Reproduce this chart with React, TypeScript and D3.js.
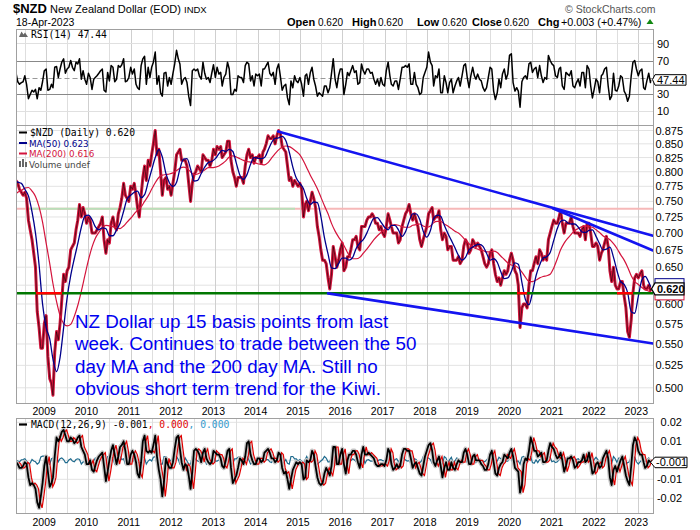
import React from 'react';
import * as d3 from 'd3';

// ---------------- DATA ----------------
// Semi-monthly closes (1st and 16th of each month) starting 2008-04-16
const priceValues: number[] = [
  0.785, 0.780, 0.770, 0.765, 0.760, 0.765, 0.755, 0.720, 0.705, 0.690, 0.670, 0.650, 0.590, 0.570, 0.545, 0.545, 0.575,
  0.585, 0.535, 0.510, 0.505, 0.492, 0.540, 0.565, 0.555, 0.575, 0.605, 0.640, 0.630, 0.645, 0.650, 0.675, 0.680, 0.685, 0.705, 0.720, 0.745, 0.725, 0.740, 0.730, 0.715,
  0.725, 0.720, 0.700, 0.700, 0.700, 0.705, 0.710, 0.715, 0.725, 0.690, 0.670, 0.690, 0.685, 0.715, 0.725, 0.710, 0.705, 0.730, 0.740, 0.755, 0.780, 0.760, 0.755, 0.750,
  0.775, 0.770, 0.780, 0.760, 0.740, 0.725, 0.760, 0.790, 0.810, 0.785, 0.820, 0.810, 0.830, 0.850, 0.875, 0.830, 0.840, 0.800, 0.760, 0.785, 0.790, 0.770, 0.775, 0.760,
  0.780, 0.800, 0.830, 0.835, 0.840, 0.820, 0.820, 0.820, 0.810, 0.780, 0.750, 0.780, 0.795, 0.800, 0.810, 0.805, 0.800, 0.830, 0.825, 0.820, 0.820, 0.810, 0.820, 0.840,
  0.830, 0.845, 0.840, 0.845, 0.825, 0.830, 0.835, 0.855, 0.855, 0.820, 0.800, 0.790, 0.775, 0.790, 0.790, 0.790, 0.780, 0.810, 0.830, 0.840, 0.825, 0.830, 0.815, 0.825,
  0.825, 0.830, 0.815, 0.835, 0.840, 0.850, 0.865, 0.860, 0.860, 0.865, 0.850, 0.865, 0.875, 0.870, 0.845, 0.840, 0.835, 0.810, 0.785, 0.790, 0.775, 0.785, 0.780, 0.775,
  0.780, 0.770, 0.725, 0.745, 0.750, 0.735, 0.750, 0.765, 0.755, 0.740, 0.710, 0.695, 0.675, 0.660, 0.660, 0.655, 0.635, 0.620, 0.640, 0.680, 0.665, 0.650, 0.660, 0.675,
  0.685, 0.645, 0.650, 0.665, 0.665, 0.675, 0.690, 0.690, 0.695, 0.680, 0.675, 0.710, 0.710, 0.710, 0.720, 0.725, 0.725, 0.730, 0.725, 0.715, 0.715, 0.705, 0.710, 0.700,
  0.695, 0.710, 0.730, 0.720, 0.710, 0.700, 0.700, 0.700, 0.685, 0.690, 0.710, 0.720, 0.730, 0.735, 0.745, 0.730, 0.720, 0.730, 0.720, 0.710, 0.690, 0.680, 0.690, 0.700,
  0.710, 0.730, 0.735, 0.740, 0.720, 0.725, 0.725, 0.735, 0.705, 0.690, 0.700, 0.695, 0.675, 0.680, 0.680, 0.660, 0.660, 0.660, 0.665, 0.655, 0.660, 0.680, 0.690, 0.685,
  0.670, 0.675, 0.690, 0.685, 0.680, 0.685, 0.680, 0.675, 0.665, 0.655, 0.650, 0.655, 0.670, 0.675, 0.655, 0.640, 0.630, 0.635, 0.625, 0.635, 0.645, 0.640, 0.645, 0.660,
  0.670, 0.660, 0.645, 0.640, 0.625, 0.570, 0.595, 0.600, 0.600, 0.595, 0.625, 0.645, 0.645, 0.655, 0.665, 0.655, 0.675, 0.670, 0.660, 0.665, 0.660, 0.690, 0.700, 0.710,
  0.720, 0.715, 0.715, 0.725, 0.735, 0.715, 0.700, 0.715, 0.715, 0.715, 0.725, 0.710, 0.700, 0.700, 0.700, 0.695, 0.705, 0.710, 0.690, 0.715, 0.715, 0.700, 0.680, 0.680,
  0.685, 0.680, 0.660, 0.670, 0.675, 0.685, 0.695, 0.680, 0.645, 0.630, 0.650, 0.625, 0.620, 0.620, 0.630, 0.630, 0.610, 0.595, 0.565, 0.558, 0.580, 0.615, 0.635, 0.640,
  0.635, 0.640, 0.645, 0.625, 0.620, 0.620, 0.625, 0.618,
];
const lastDate = '2023-04-18';
const lastClose = 0.62;

// Monthly (1st of month) moving averages starting 2008-04-01
const ma50Values: number[] = [
  0.785, 0.782, 0.780, 0.770, 0.759, 0.733, 0.700, 0.653, 0.600,
  0.570, 0.556, 0.532, 0.518, 0.534, 0.570, 0.608, 0.638, 0.662, 0.684, 0.709, 0.726,
  0.728, 0.721, 0.710, 0.705, 0.708, 0.707, 0.696, 0.696, 0.705, 0.715, 0.734, 0.754,
  0.760, 0.765, 0.767, 0.756, 0.761, 0.782, 0.803, 0.825, 0.840, 0.826, 0.797, 0.781,
  0.775, 0.782, 0.805, 0.822, 0.823, 0.805, 0.784, 0.785, 0.797, 0.808, 0.816, 0.818,
  0.823, 0.832, 0.838, 0.836, 0.840, 0.836, 0.815, 0.794, 0.787, 0.795, 0.813, 0.825,
  0.824, 0.823, 0.825, 0.838, 0.852, 0.860, 0.861, 0.864, 0.856, 0.835, 0.808, 0.789,
  0.780, 0.771, 0.755, 0.745, 0.749, 0.748, 0.726, 0.693, 0.669, 0.649, 0.648, 0.655,
  0.663, 0.663, 0.660, 0.664, 0.677, 0.685, 0.690, 0.700, 0.713, 0.723, 0.724, 0.717,
  0.709, 0.705, 0.712, 0.712, 0.705, 0.695, 0.702, 0.718, 0.730, 0.730, 0.721, 0.703,
  0.694, 0.704, 0.723, 0.728, 0.726, 0.712, 0.700, 0.689, 0.678, 0.667, 0.660, 0.664,
  0.675, 0.679, 0.682, 0.683, 0.680, 0.670, 0.660, 0.662, 0.657, 0.644, 0.634, 0.635,
  0.644, 0.656, 0.654, 0.629, 0.606, 0.599, 0.615, 0.638, 0.653, 0.663, 0.665, 0.671,
  0.689, 0.707, 0.718, 0.720, 0.716, 0.714, 0.714, 0.709, 0.702, 0.701, 0.704, 0.705,
  0.695, 0.684, 0.675, 0.676, 0.679, 0.664, 0.645, 0.630, 0.626, 0.615, 0.590, 0.588,
  0.610, 0.632, 0.637, 0.629,
];
const ma50Last = 0.623;

const ma200Values: number[] = [
  0.760, 0.765, 0.768, 0.772, 0.773, 0.767, 0.758, 0.741, 0.717,
  0.685, 0.655, 0.627, 0.603, 0.585, 0.575, 0.572, 0.574, 0.584, 0.598, 0.617, 0.638,
  0.660, 0.679, 0.692, 0.701, 0.708, 0.712, 0.711, 0.710, 0.708, 0.707, 0.711, 0.717,
  0.723, 0.730, 0.736, 0.741, 0.750, 0.759, 0.770, 0.781, 0.790, 0.794, 0.795, 0.796,
  0.798, 0.802, 0.806, 0.808, 0.806, 0.800, 0.795, 0.796, 0.799, 0.803, 0.807, 0.807,
  0.808, 0.810, 0.814, 0.819, 0.826, 0.828, 0.826, 0.823, 0.820, 0.818, 0.817, 0.816,
  0.814, 0.813, 0.812, 0.816, 0.824, 0.832, 0.839, 0.844, 0.846, 0.845, 0.841, 0.836,
  0.830, 0.819, 0.807, 0.794, 0.783, 0.771, 0.757, 0.743, 0.730, 0.715, 0.703, 0.694,
  0.686, 0.676, 0.667, 0.662, 0.662, 0.664, 0.670, 0.676, 0.683, 0.690, 0.696, 0.701,
  0.705, 0.708, 0.711, 0.713, 0.712, 0.710, 0.709, 0.709, 0.712, 0.713, 0.714, 0.711,
  0.709, 0.711, 0.716, 0.718, 0.718, 0.714, 0.711, 0.707, 0.703, 0.700, 0.695, 0.689,
  0.684, 0.679, 0.677, 0.675, 0.674, 0.672, 0.672, 0.673, 0.671, 0.666, 0.661, 0.656,
  0.653, 0.652, 0.649, 0.643, 0.636, 0.630, 0.630, 0.632, 0.635, 0.637, 0.638, 0.640,
  0.649, 0.662, 0.675, 0.685, 0.692, 0.698, 0.704, 0.707, 0.710, 0.711, 0.710, 0.709,
  0.705, 0.701, 0.696, 0.693, 0.690, 0.684, 0.677, 0.668, 0.660, 0.650, 0.638, 0.630,
  0.626, 0.622, 0.619, 0.617,
];
const ma200Last = 0.616;

// RSI(14), semi-monthly from 2008-04-16
const rsiValues: number[] = [
  55, 45, 42, 44, 45, 52, 42, 25, 30, 35, 33, 36, 25, 38, 35, 45, 58,
  60, 35, 36, 42, 38, 62, 63, 50, 60, 68, 72, 55, 60, 62, 70, 62, 58, 68, 66, 72, 48, 58, 48, 42,
  55, 50, 36, 48, 50, 52, 55, 58, 60, 35, 33, 56, 46, 64, 62, 45, 48, 64, 62, 65, 72, 45, 46, 50,
  62, 54, 60, 42, 38, 36, 64, 72, 75, 42, 62, 50, 62, 68, 80, 42, 52, 32, 28, 55, 56, 40, 50, 42,
  55, 66, 82, 72, 66, 42, 48, 50, 44, 28, 17, 58, 60, 58, 60, 52, 48, 68, 55, 48, 50, 44, 55, 65,
  50, 62, 54, 56, 40, 50, 54, 68, 60, 30, 30, 36, 34, 52, 50, 50, 44, 64, 68, 66, 46, 52, 40, 54,
  52, 54, 40, 60, 60, 64, 68, 55, 52, 56, 42, 60, 66, 52, 35, 40, 42, 26, 18, 46, 38, 52, 46, 44,
  50, 42, 28, 52, 54, 42, 56, 62, 48, 40, 28, 32, 30, 28, 40, 40, 32, 38, 55, 72, 48, 38, 52, 60,
  60, 30, 42, 56, 52, 58, 64, 56, 58, 42, 44, 66, 58, 54, 60, 60, 55, 56, 48, 42, 48, 40, 50, 42,
  40, 58, 68, 52, 42, 40, 46, 46, 36, 48, 62, 62, 64, 62, 66, 42, 42, 56, 42, 38, 30, 32, 50, 56,
  62, 80, 68, 64, 40, 52, 50, 60, 32, 32, 52, 44, 32, 44, 48, 32, 40, 46, 50, 40, 52, 64, 66, 50,
  38, 52, 62, 52, 48, 54, 48, 46, 38, 34, 38, 50, 62, 60, 34, 24, 32, 48, 38, 54, 60, 48, 54, 76,
  78, 44, 34, 38, 34, 15, 45, 50, 52, 48, 66, 68, 56, 60, 62, 50, 64, 52, 44, 50, 48, 76, 70, 66,
  64, 52, 50, 60, 62, 40, 36, 56, 54, 52, 58, 40, 38, 44, 48, 40, 56, 56, 38, 64, 60, 40, 26, 36,
  48, 45, 32, 52, 54, 60, 62, 40, 24, 28, 55, 35, 34, 40, 52, 50, 34, 30, 22, 28, 52, 68, 70, 60,
  52, 58, 60, 38, 36, 46, 55, 44,
];
const rsiLast = 47.44;

// MACD line (thousandths), semi-monthly from 2008-04-16
const macdValues: number[] = [
  -1, -2, -4, -4, -3, -1, -2, -9, -13, -12, -13, -15, -22, -25, -19, -12, -3,
  2, -6, -14, -12, -9, 2, 12, 10, 12, 15, 16, 13, 10, 10, 12, 11, 9, 10, 12, 13, 7, 5, 3, -2,
  -2, 0, -5, -6, -3, 0, 2, 3, 4, -3, -11, -6, 0, 5, 8, 3, -2, 2, 7, 8, 10, 5, -2, -2,
  3, 5, 3, -1, -7, -9, -1, 10, 13, 5, 4, 5, 4, 8, 13, 2, -5, -10, -19, -11, 1, -2, -4, -4,
  -1, 6, 12, 13, 6, -1, -5, -2, -3, -8, -15, -6, 5, 6, 5, 3, -1, 4, 6, 1, -1, -2, -1, 5,
  4, 3, 3, 1, -3, -4, 0, 5, 6, -4, -12, -10, -8, -4, 1, 0, -2, 2, 9, 10, 3, 0, -2, -2,
  1, 1, -1, 0, 4, 5, 6, 4, 1, 1, -1, 0, 4, 3, -4, -7, -6, -10, -15, -10, -5, -3, -1, -2,
  -1, -2, -10, -9, 0, -1, 0, 5, 3, -3, -9, -12, -13, -12, -7, -4, -6, -8, -3, 7, 7, -2, -2, 3,
  6, -2, -7, 0, 3, 3, 5, 5, 3, -1, -4, 3, 7, 3, 3, 4, 3, 2, 1, -2, -3, -3, -2, -2,
  -3, 0, 6, 4, -2, -5, -4, -2, -4, -3, 3, 6, 6, 5, 5, 1, -4, -2, -1, -4, -7, -8, -3, 2,
  5, 8, 9, 5, -1, -3, 0, 2, -3, -9, -4, -1, -5, -5, -1, -4, -5, -2, 0, -1, -1, 4, 6, 3,
  -2, -2, 2, 3, 0, 0, 0, -2, -3, -5, -5, -2, 3, 5, -1, -7, -8, -4, -2, -1, 3, 2, 1, 4,
  6, 2, -4, -5, -6, -17, -13, -2, 1, 0, 5, 12, 9, 5, 5, 2, 3, 4, -1, -1, 0, 5, 9, 7,
  6, 3, 1, 2, 4, 0, -6, -3, 1, 1, 2, 0, -4, -3, -1, -1, 0, 3, -1, 0, 4, -1, -7, -6,
  -2, -1, -4, -3, 1, 3, 5, 1, -9, -13, -5, -3, -6, -3, 0, 2, -3, -8, -11, -13, -3, 8, 12, 10,
  5, 3, 3, -1, -4, -3, 0, -1,
];
const macdLast = -1;

// MACD histogram (ten-thousandths), semi-monthly from 2008-04-16
const histValues: number[] = [
  0, -4, -8, 2, 4, 8, -4, -20, -14, 4, -4, -8, -20, -12, 18, 22, 22,
  18, -22, -22, 8, 12, 22, 22, -8, 8, 12, 4, -12, -12, 2, 8, -4, -8, 4, 8, 4, -20, -8, -8, -18,
  2, 8, -20, -4, 12, 12, 8, 4, 4, -20, -20, 20, 20, 20, 12, -20, -20, 16, 20, 4, 8, -20, -20, -2,
  20, 8, -8, -16, -20, -8, 20, 20, 12, -20, -4, 4, -4, 16, 20, -20, -20, -20, -20, 20, 20, -12, -8, 2,
  12, 20, 20, 4, -20, -20, -16, 12, -4, -20, -20, 20, 20, 4, -4, -8, -16, 20, 8, -20, -8, -4, 4, 20,
  -4, -4, 2, -8, -16, -4, 16, 20, 4, -20, -20, 8, 8, 16, 20, -4, -8, 16, 20, 4, -20, -12, -8, 2,
  12, -2, -8, 4, 16, 4, 4, -8, -12, 2, -8, 4, 16, -4, -20, -12, 4, -16, -20, 20, 20, 8, 8, -4,
  4, -4, -20, 4, 20, -4, 4, 20, -8, -20, -20, -12, -4, 4, 20, 12, -8, -8, 20, 20, 2, -20, -2, 20,
  12, -20, -20, 20, 12, -2, 8, 2, -8, -16, -12, 20, 16, -16, 2, 4, -4, -4, -4, -12, -4, 2, 4, -2,
  -4, 12, 20, -8, -20, -12, 4, 8, -8, 4, 20, 12, 2, -4, -2, -16, -20, 8, 4, -12, -12, -4, 20, 20,
  12, 12, 4, -16, -20, -8, 12, 8, -20, -20, 20, 12, -16, 2, 16, -12, -4, 12, 8, -4, 2, 20, 8, -12,
  -20, -2, 16, 4, -12, 2, -2, -8, -4, -8, 2, 12, 20, 8, -20, -20, -4, 16, 8, 4, 16, -4, -4, 12,
  8, -16, -20, -4, -4, -20, 16, 20, 12, -4, 20, 20, -12, -16, 2, -12, 4, 4, -20, -2, 4, 20, 16, -8,
  -4, -12, -8, 4, 8, -16, -20, 12, 16, 2, 4, -8, -16, 4, 8, -2, 4, 12, -16, 4, 16, -20, -20, 4,
  16, 4, -12, 4, 16, 8, 8, -16, -20, -16, 20, 8, -12, 12, 12, 8, -20, -20, -12, -8, 20, 20, 16, -8,
  -20, -8, 2, -16, -12, 4, 12, -4,
];
const histLast = 0;

const yearLabels = [2009, 2010, 2011, 2012, 2013, 2014, 2015, 2016, 2017, 2018, 2019, 2020, 2021, 2022, 2023];
const priceTicks = [0.5, 0.525, 0.55, 0.575, 0.6, 0.625, 0.65, 0.675, 0.7, 0.725, 0.75, 0.775, 0.8, 0.825, 0.85, 0.875];
const priceLabelTicks = [0.5, 0.525, 0.55, 0.575, 0.6, 0.65, 0.675, 0.7, 0.725, 0.75, 0.775, 0.8, 0.825, 0.85, 0.875];
const rsiTicks = [10, 30, 70, 90];
const macdTicks = [0.02, 0.01, -0.01, -0.02];

const headerItems = [
  { label: 'Open', value: '0.620', lx: 287, vx: 318 },
  { label: 'High', value: '0.620', lx: 352, vx: 378 },
  { label: 'Low', value: '0.620', lx: 417, vx: 442 },
  { label: 'Close', value: '0.620', lx: 472, vx: 504 },
  { label: 'Chg', value: '+0.003 (+0.47%)', lx: 538, vx: 561 },
];

const greenLevel = 0.6142;
const greenLevelRedRanges = [
  ['2008-10-05', '2009-05-19'],
  ['2020-02-19', '2020-05-15'],
  ['2022-07-01', '2022-11-17'],
];
const pinkLevel = 0.738;
const pinkLevelGreenRanges = [['2008-07-25', '2014-11-20']];

const trendLines = [
  { d0: '2014-06-27', v0: 0.873, d1: '2023-05-08', v1: 0.696 },
  { d0: '2020-12-27', v0: 0.7384, d1: '2023-05-08', v1: 0.674 },
  { d0: '2015-09-01', v0: 0.614, d1: '2023-05-08', v1: 0.5506 },
];

const noteLines = [
  'NZ Dollar up 15 basis points from last',
  'week. Continues to trade between the 50',
  'day MA and the 200 day MA. Still no',
  'obvious short term trend for the Kiwi.',
];

// ---------------- LAYOUT ----------------
const W = 700, H = 530;
const L = 16.5, R = 653.5;
const RSI_T = 29.5, RSI_B = 125.5;
const P_T = 125.5, P_B = 403.5;
const M_T = 418.5, M_B = 513.5;

const parse = d3.timeParse('%Y-%m-%d');
const halfMonthDate = (i: number) => {
  const s = i + 7;
  return new Date(2008 + Math.floor(s / 24), Math.floor((s % 24) / 2), s % 2 ? 16 : 1);
};
const monthDate = (i: number) => new Date(2008, 3 + i, 1);

const x = d3.scaleTime().domain([new Date(2008, 3, 20), new Date(2023, 4, 8)]).range([L, R - 0.5]);
const yP = d3.scaleLog().domain([0.4832, 0.8846]).range([P_B, P_T]);
const yR = d3.scaleLinear().domain([-6.5, 106.5]).range([RSI_B, RSI_T]);
const yM = d3.scaleLinear().domain([-0.028, 0.022]).range([M_B, M_T]);

type Pt = [Date, number];
const semi = (arr: number[], last: number, scale = 1): Pt[] => {
  const pts: Pt[] = arr.map((v, i) => [halfMonthDate(i), v * scale] as Pt);
  pts.push([parse(lastDate)!, last * scale]);
  return pts;
};
const monthly = (arr: number[], last: number): Pt[] => {
  const pts: Pt[] = arr.map((v, i) => [monthDate(i), v] as Pt);
  pts.push([parse(lastDate)!, last]);
  return pts;
};

const SANS = 'Liberation Sans, Arial, Helvetica, sans-serif';
const MONO = 'DejaVu Sans Mono, monospace';
const VERD = 'DejaVu Sans, Verdana, sans-serif';

export default function App() {
  const pricePts = semi(priceValues, lastClose);
  const ma50Pts = monthly(ma50Values, ma50Last);
  const ma200Pts = monthly(ma200Values, ma200Last);
  const rsiPts = semi(rsiValues, rsiLast);
  const macdPts = semi(macdValues, macdLast, 0.001);
  const histPts = semi(histValues, histLast, 0.0001);

  const lineP = d3.line<Pt>().x(d => x(d[0])).y(d => yP(d[1]));
  const lineMA = d3.line<Pt>().x(d => x(d[0])).y(d => yP(d[1])).curve(d3.curveMonotoneX);
  const lineR = d3.line<Pt>().x(d => x(d[0])).y(d => yR(d[1]));
  const lineM = d3.line<Pt>().x(d => x(d[0])).y(d => yM(d[1]));
  const lineSig = d3.line<Pt>().x(d => x(d[0]) + 3).y(d => yM(d[1]));

  const gridDates: { d: Date; jan: boolean }[] = [];
  for (let yv = 2008; yv <= 2023; yv++) {
    [0, 6].forEach(m => {
      const d = new Date(yv, m, 1);
      if (x(d) > L + 1 && x(d) < R - 1) gridDates.push({ d, jan: m === 0 });
    });
  }

  const vGrid = (top: number, bottom: number) =>
    gridDates.map((g, i) => (
      <line key={i} x1={Math.round(x(g.d)) + 0.5} x2={Math.round(x(g.d)) + 0.5} y1={top} y2={bottom}
        stroke={g.jan ? '#cfcfcf' : '#dedede'} strokeWidth={1} />
    ));

  const yGreen = yP(greenLevel);
  const yPink = yP(pinkLevel);
  const yRl = yR(rsiLast);
  const yPl = yP(lastClose);
  const yMl = yM(macdLast * 0.001);

  return (
    <svg width={W} height={H} viewBox={`0 0 ${W} ${H}`} style={{ position: 'absolute', left: 0, top: 0, background: '#fff' }}
      xmlns="http://www.w3.org/2000/svg">
      <defs>
        <clipPath id="cR"><rect x={L} y={RSI_T} width={R - L} height={RSI_B - RSI_T} /></clipPath>
        <clipPath id="cP"><rect x={L} y={P_T} width={R - L} height={P_B - P_T} /></clipPath>
        <clipPath id="cM"><rect x={L} y={M_T} width={R - L} height={M_B - M_T} /></clipPath>
      </defs>
      <rect x={0} y={0} width={W} height={H} fill="#fff" />

      {/* ---------- Header ---------- */}
      <text x={13} y={13} fontFamily={SANS} fontSize={13} fontWeight="bold" fill="#000">$NZD</text>
      <text x={50} y={13} fontFamily={SANS} fontSize={11} fill="#000">New Zealand Dollar (EOD)</text>
      <text x={184} y={13} fontFamily={SANS} fontSize={9.5} fill="#000">INDX</text>
      <text x={16} y={25.5} fontFamily={SANS} fontSize={10.5} fill="#000">18-Apr-2023</text>
      <text x={565} y={13} fontFamily={SANS} fontSize={10.5} fill="#555">© StockCharts.com</text>
      <g fontFamily={SANS} fill="#000">
        {headerItems.map(h => (
          <g key={h.label}>
            <text x={h.lx} y={25.5} fontSize={11} fontWeight="bold">{h.label}</text>
            <text x={h.vx} y={25.5} fontSize={h.label === 'Chg' ? 10.8 : 10}>{h.value}</text>
          </g>
        ))}
      </g>
      <path d="M646.5,24 L650,19 L653.5,24 Z" fill="#118811" />

      {/* ---------- RSI panel ---------- */}
      <rect x={L} y={RSI_T} width={R - L} height={RSI_B - RSI_T} fill="#fff" />
      {vGrid(RSI_T, RSI_B)}
      {[10, 90].map(v => (
        <line key={v} x1={L} x2={R} y1={yR(v)} y2={yR(v)} stroke="#e0e0e0" />
      ))}
      {[30, 70].map(v => (
        <line key={v} x1={L} x2={R} y1={Math.round(yR(v)) + 0.5} y2={Math.round(yR(v)) + 0.5} stroke="#888" strokeWidth={1.2} />
      ))}
      <line x1={L} x2={R} y1={Math.round(yR(50)) + 0.5} y2={Math.round(yR(50)) + 0.5} stroke="#999" strokeDasharray="5,3" />
      <g clipPath="url(#cR)">
        <path d={lineR(rsiPts)!} fill="none" stroke="#000" strokeWidth={1.5} strokeLinejoin="round" />
      </g>
      <rect x={L} y={RSI_T} width={R - L} height={RSI_B - RSI_T} fill="none" stroke="#a0a0a0" />
      <path d="M19,37 L21.5,31.5 L23.5,34.5 L25,32.5 L28,37 Z" fill="#666" />
      <text x={31} y={37.5} fontFamily={MONO} fontSize={9.7} fill="#000">RSI(14) 47.44</text>
      {rsiTicks.map(v => (
        <text key={v} x={657} y={yR(v) + 4} fontFamily={SANS} fontSize={11} fill="#000">{v}</text>
      ))}
      <polygon points={`${R - 1},${yRl} 655,${yRl - 5} 686,${yRl - 5} 686,${yRl + 5.5} 655,${yRl + 5.5}`}
        fill="#fff" stroke="#000" strokeWidth={1} />
      <text x={657} y={yRl + 4.2} fontFamily={SANS} fontSize={11} fill="#000">47.44</text>

      {/* ---------- Price panel ---------- */}
      <rect x={L} y={P_T} width={R - L} height={P_B - P_T} fill="#fff" />
      {priceTicks.map(v => (
        <line key={v} x1={L} x2={R} y1={yP(v)} y2={yP(v)} stroke="#e3e3e3" />
      ))}
      {vGrid(P_T, P_B)}
      <g clipPath="url(#cP)">
        {/* upper level line */}
        <line x1={L} x2={R} y1={yPink} y2={yPink} stroke="#f6b8b8" strokeWidth={2} />
        {pinkLevelGreenRanges.map((r, i) => (
          <line key={i} x1={x(parse(r[0])!)} x2={x(parse(r[1])!)} y1={yPink} y2={yPink} stroke="#b9dfb9" strokeWidth={2} />
        ))}
        {/* price */}
        <path d={lineP(pricePts)!} fill="none" stroke="#d4143c" strokeWidth={3} strokeLinejoin="round" />
        <path d={lineP(pricePts)!} fill="none" stroke="#000" strokeWidth={0.9} strokeOpacity={0.6} strokeLinejoin="round" />
        {/* moving averages */}
        <path d={lineMA(ma200Pts)!} fill="none" stroke="#d4143c" strokeWidth={1.2} />
        <path d={lineMA(ma50Pts)!} fill="none" stroke="#00008b" strokeWidth={1.3} />
        {/* support level */}
        <line x1={L} x2={R} y1={yGreen} y2={yGreen} stroke="#007700" strokeWidth={2.6} />
        {greenLevelRedRanges.map((r, i) => (
          <line key={i} x1={x(parse(r[0])!)} x2={x(parse(r[1])!)} y1={yGreen} y2={yGreen} stroke="#ff0000" strokeWidth={2.6} />
        ))}
        {/* trend lines */}
        {trendLines.map((t, i) => (
          <line key={i} x1={x(parse(t.d0)!)} y1={yP(t.v0)} x2={x(parse(t.d1)!)} y2={yP(t.v1)}
            stroke="#1414f0" strokeWidth={2.6} strokeLinecap="round" />
        ))}
      </g>
      <rect x={L} y={P_T} width={R - L} height={P_B - P_T} fill="none" stroke="#a0a0a0" />
      {/* legend */}
      <line x1={19} x2={27} y1={132.5} y2={132.5} stroke="#000" strokeWidth={2} />
      <text x={30} y={136} fontFamily={MONO} fontSize={9.7} fill="#000">$NZD (Daily) 0.620</text>
      <line x1={19} x2={27} y1={143} y2={143} stroke="#00008b" strokeWidth={2} />
      <text x={29} y={146.5} fontFamily={VERD} fontSize={8.8} fill="#00008b">MA(50) 0.623</text>
      <line x1={19} x2={27} y1={153.5} y2={153.5} stroke="#d4143c" strokeWidth={2} />
      <text x={29} y={157} fontFamily={VERD} fontSize={8.8} fill="#d4143c">MA(200) 0.616</text>
      <rect x={19} y={161} width={2} height={6} fill="#666" />
      <rect x={22} y={159} width={2} height={8} fill="#666" />
      <rect x={25} y={162} width={2} height={5} fill="#666" />
      <text x={29} y={167.5} fontFamily={VERD} fontSize={8.8} fill="#444">Volume undef</text>
      {/* annotation */}
      <g fontFamily={SANS} fontSize={18.8} fill="#0000f0">
        {noteLines.map((s, i) => (
          <text key={i} x={75} y={328 + i * 22.35}>{s}</text>
        ))}
      </g>
      {priceLabelTicks.map(v => (
        <text key={v} x={683} y={yP(v) + 4} textAnchor="end" fontFamily={SANS} fontSize={11} fill="#000">{v.toFixed(3)}</text>
      ))}
      {/* MA tags and price tag */}
      <rect x={655} y={yP(ma50Last) - 8} width={29} height={10} fill="#fff" stroke="#00008b" />
      <rect x={655} y={yP(ma200Last) - 2} width={29} height={10} fill="#fff" stroke="#d4143c" />
      <polygon points={`${R - 2},${yPl} 655,${yPl - 6} 684,${yPl - 6} 684,${yPl + 6} 655,${yPl + 6}`}
        fill="#fff" stroke="#000" strokeWidth={1.2} />
      <text x={657} y={yPl + 4.2} fontFamily={SANS} fontSize={11} fontWeight="bold" fill="#000">0.620</text>

      {/* year labels under price panel */}
      {yearLabels.map(yv => (
        <text key={yv} x={x(new Date(yv, 0, 1)) - 2} y={415} textAnchor="middle" fontFamily={SANS} fontSize={10.5} fill="#000">{yv}</text>
      ))}

      {/* ---------- MACD panel ---------- */}
      <rect x={L} y={M_T} width={R - L} height={M_B - M_T} fill="#fff" />
      {[0.02, 0.01, 0, -0.01, -0.02].map(v => (
        <line key={v} x1={L} x2={R} y1={yM(v)} y2={yM(v)} stroke="#e3e3e3" />
      ))}
      {vGrid(M_T, M_B)}
      <g clipPath="url(#cM)">
        <path d={lineM(histPts)!} fill="none" stroke="#1f6b8e" strokeWidth={1.2} />
        <path d={lineM(macdPts)!} fill="none" stroke="#c4c4c4" strokeWidth={4.5} strokeLinejoin="round" />
        <path d={lineSig(macdPts)!} fill="none" stroke="#e00000" strokeWidth={1.2} />
        <path d={lineM(macdPts)!} fill="none" stroke="#000" strokeWidth={1.8} strokeLinejoin="round" />
      </g>
      <rect x={L} y={M_T} width={R - L} height={M_B - M_T} fill="none" stroke="#a0a0a0" />
      <line x1={19} x2={27} y1={424.5} y2={424.5} stroke="#000" strokeWidth={2.2} />
      <text x={31} y={428} fontFamily={MONO} fontSize={9.7}>
        <tspan fill="#000">MACD(12,26,9) -0.001</tspan>
        <tspan fill="#e00000">, 0.000</tspan>
        <tspan fill="#3399cc">, 0.000</tspan>
      </text>
      {macdTicks.map(v => (
        <text key={v} x={682} y={yM(v) + 4} textAnchor="end" fontFamily={SANS} fontSize={11} fill="#000">{v.toFixed(2)}</text>
      ))}
      <polygon points={`${R - 3},${yMl} 655,${yMl - 5} 687,${yMl - 5} 687,${yMl + 5.5} 655,${yMl + 5.5}`}
        fill="#fff" stroke="#000" strokeWidth={1} />
      <text x={656} y={yMl + 4.2} fontFamily={SANS} fontSize={11} fill="#000">-0.001</text>
      {yearLabels.map(yv => (
        <text key={yv} x={x(new Date(yv, 0, 1)) - 2} y={526} textAnchor="middle" fontFamily={SANS} fontSize={10.5} fill="#000">{yv}</text>
      ))}
    </svg>
  );
}
